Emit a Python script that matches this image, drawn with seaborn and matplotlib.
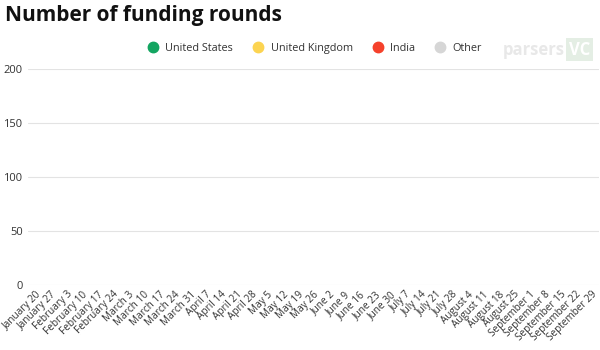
import matplotlib
matplotlib.use("Agg")
import matplotlib.pyplot as plt
import seaborn as sns
import pandas as pd
import numpy as np
from matplotlib.lines import Line2D

weeks = [
    "January 20", "January 27", "February 3", "February 10", "February 17", "February 24",
    "March 3", "March 10", "March 17", "March 24", "March 31",
    "April 7", "April 14", "April 21", "April 28",
    "May 5", "May 12", "May 19", "May 26",
    "June 2", "June 9", "June 16", "June 23", "June 30",
    "July 7", "July 14", "July 21", "July 28",
    "August 4", "August 11", "August 18", "August 25",
    "September 1", "September 8", "September 15", "September 22", "September 29",
]
series_names = ["United States", "United Kingdom", "India", "Other"]
series_colors = ["#13a561", "#fcd451", "#f5412b", "#d6d6d6"]
united_states = [0] * len(weeks)
united_kingdom = [0] * len(weeks)
india = [0] * len(weeks)
other = [0] * len(weeks)
y_ticks = [0, 50, 100, 150, 200]

sns.set_theme(style="white")
plt.rcParams["font.family"] = ["Open Sans", "DejaVu Sans"]

fig = plt.figure(figsize=(6, 3.5), dpi=100)
ax = fig.add_axes([0.047, 0.186, 0.951, 0.617])

df = pd.DataFrame({"week": weeks, "United States": united_states,
                   "United Kingdom": united_kingdom, "India": india, "Other": other})
bottom = np.zeros(len(weeks))
for name, color in zip(series_names, series_colors):
    sns.barplot(x=df["week"], y=df[name] + bottom, color=color, ax=ax,
                order=weeks, width=0.7, zorder=3 - series_names.index(name) * 0.1)
    bottom += df[name].values

ax.set_ylim(0, 200)
ax.set_xlim(-0.5, len(weeks) - 0.5)
ax.set_yticks(y_ticks)
ax.set_yticklabels([str(v) for v in y_ticks], fontsize=8, color="#333333")
ax.set_xticks(range(len(weeks)))
ax.set_xticklabels(weeks, rotation=45, ha="right", rotation_mode="anchor",
                   fontsize=7.2, color="#333333")
ax.tick_params(axis="x", length=0, pad=3)
ax.tick_params(axis="y", length=0, pad=4)
ax.set_xlabel("")
ax.set_ylabel("")
ax.grid(axis="y", color="#e3e3e3", linewidth=0.8, zorder=0)
ax.set_axisbelow(True)
for s in ax.spines.values():
    s.set_visible(False)

fig.text(0.008, 0.955, "Number of funding rounds", fontsize=15, fontweight="bold",
         color="#111111", va="center", ha="left")

handles = [Line2D([], [], marker="o", linestyle="", markersize=7.5,
                  markerfacecolor=c, markeredgecolor=c) for c in series_colors]
fig.legend(handles, series_names, loc="center", bbox_to_anchor=(0.52, 0.862),
           ncol=4, frameon=False, fontsize=7.8, handletextpad=0.15,
           columnspacing=1.3, labelcolor="#333333")

fig.text(0.942, 0.858, "parsers", fontsize=12, fontweight="bold", color="#e8e8e8",
         ha="right", va="center")
fig.text(0.948, 0.858, "VC", fontsize=12, fontweight="bold", color="#ffffff",
         ha="left", va="center",
         bbox=dict(boxstyle="square,pad=0.15", facecolor="#e4eee4", edgecolor="none"))

fig.savefig("out.png", dpi=100)
